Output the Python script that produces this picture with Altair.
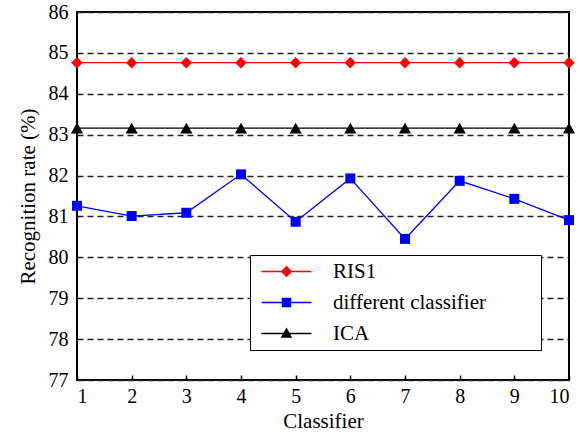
import altair as alt
import pandas as pd

classifiers = [1, 2, 3, 4, 5, 6, 7, 8, 9, 10]
series_names = ["RIS1", "different classifier", "ICA"]
ris1 = [84.76] * 10
different = [81.26, 81.01, 81.09, 82.03, 80.87, 81.93, 80.45, 81.87, 81.43, 80.91]
ica = [83.16] * 10
y_ticks = [77, 78, 79, 80, 81, 82, 83, 84, 85, 86]

rows = []
for name, vals in zip(series_names, [ris1, different, ica]):
    for c, v in zip(classifiers, vals):
        rows.append({"Classifier": c, "Rate": v, "Series": name})
df = pd.DataFrame(rows)

FONT = "Liberation Serif"
colors = ["#ff0000", "#0000ff", "#000000"]
marker_shapes = ["diamond", "square", "triangle-up"]
marker_sizes = [130, 100, 150]

# legend glyphs: thin bar (the line) plus the marker, unit = 5px at size 100;
# the trailing zero-length subpath only widens the legend frame
bar = "M-5,-0.13L5,-0.13L5,0.13L-5,0.13Z"
spacer = "M49.6,0L49.6,0"
p_ris = bar + "M0,-1.15L1.15,0L0,1.15L-1.15,0Z" + spacer
p_sq = bar + "M-0.95,-0.95L0.95,-0.95L0.95,0.95L-0.95,0.95Z" + spacer
p_tri = bar + "M0,-1.2L1.15,0.85L-1.15,0.85Z" + spacer

series_scale = alt.Scale(domain=series_names, range=colors)
legend_shape_scale = alt.Scale(domain=series_names, range=[p_ris, p_sq, p_tri])

base = alt.Chart(df)

x_main = alt.X(
    "Classifier:Q",
    scale=alt.Scale(domain=[1, 10], nice=False, zero=False),
    axis=alt.Axis(
        values=classifiers, format="d", title="Classifier",
        grid=False, ticks=True, tickSize=5, tickWidth=1.5,
        tickColor="#000000", offset=-5, domain=False,
        labelPadding=6, titlePadding=4,
    ),
)
y_main = alt.Y(
    "Rate:Q",
    scale=alt.Scale(domain=[77, 86], nice=False, zero=False),
    axis=alt.Axis(
        values=y_ticks, format="d", title="Recognition rate (%)",
        grid=True, ticks=False, domain=False,
        labelPadding=9, titlePadding=10,
        gridDash=[6, 4], gridColor="#222222", gridWidth=1.7, gridOpacity=1,
    ),
)

layers = []
for name, col in zip(series_names, colors):
    layers.append(
        base.transform_filter(alt.datum.Series == name)
        .mark_line(strokeWidth=1.3, color=col)
        .encode(x=x_main, y=y_main)
    )
for name, col, shp, sz in zip(series_names, colors, marker_shapes, marker_sizes):
    layers.append(
        base.transform_filter(alt.datum.Series == name)
        .mark_point(filled=True, opacity=1, shape=shp, size=sz, strokeWidth=0, color=col)
        .encode(x=x_main, y=y_main)
    )

legend_props = dict(
    title=None, orient="none", legendX=173, legendY=243,
    strokeColor="#000000", fillColor="#ffffff", padding=6,
    symbolSize=100, symbolStrokeWidth=0, symbolOffset=20,
    labelFont=FONT, labelFontSize=21, labelColor="#000000",
    labelOffset=36, rowPadding=9, labelLimit=0,
)

legend_layer = (
    base.transform_filter("datum.Rate < 0")
    .mark_point(filled=True, opacity=1, size=100, strokeWidth=0)
    .encode(
        x=x_main,
        y=y_main,
        color=alt.Color("Series:N", scale=series_scale, legend=alt.Legend(**legend_props)),
        shape=alt.Shape("Series:N", scale=legend_shape_scale, legend=alt.Legend(**legend_props)),
    )
)
layers.append(legend_layer)

chart = (
    alt.layer(*layers)
    .properties(
        width=492, height=368,
        autosize=alt.AutoSizeParams(type="none"),
        padding={"left": 77, "top": 12, "right": 11, "bottom": 54},
        background="#ffffff",
    )
    .configure_view(stroke="#000000", strokeWidth=2)
    .configure_axis(
        labelFont=FONT, titleFont=FONT, labelFontSize=20, titleFontSize=21,
        labelColor="#000000", titleColor="#000000", titleFontWeight="normal",
    )
)

chart.save("out.html", embed_options={"renderer": "svg", "actions": False})
